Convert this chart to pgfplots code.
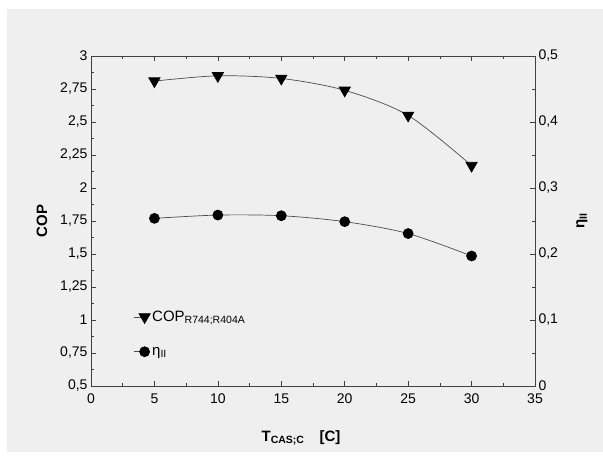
\documentclass[border=0pt]{standalone}
\usepackage{fontspec}
\setmainfont{Liberation Sans}
\usepackage{pgfplots}
\pgfplotsset{compat=1.18}
\definecolor{panel}{RGB}{239,239,239}
\newcommand{\labfont}{\bfseries\fontsize{15bp}{18bp}\selectfont}
\begin{document}
\begin{tikzpicture}
\useasboundingbox (0bp,0bp) rectangle (603bp,457bp);
\fill[white] (0bp,0bp) rectangle (603bp,457bp);
\fill[panel] (7bp,5bp) rectangle (603bp,448bp);
\pgfplotsset{
  every axis/.append style={
    scale only axis, width=444bp, height=330bp, at={(91bp,71bp)}, anchor=south west,
    xmin=0, xmax=35, xtick distance=5, minor x tick num=1,
    tick align=inside, major tick length=5bp, minor tick length=3bp,
    axis line style={black!75, line width=0.7bp},
    every tick/.style={black!75, line width=0.6bp},
    tick label style={font=\fontsize{14bp}{16bp}\selectfont},
    /pgf/number format/assume math mode=true,
    /pgf/number format/use comma,
    legend image code/.code={\draw[mark repeat=2,mark phase=2,#1] plot coordinates {(0bp,0bp) (11bp,0bp) (14bp,0bp)};},
  },
  copstyle/.style={black!70, line width=0.7bp, smooth, mark=triangle*, mark size=6.5bp,
    mark options={rotate=180, fill=black, draw=black, solid}},
  etastyle/.style={black!70, line width=0.7bp, smooth, mark=*, mark size=5bp,
    mark options={fill=black, draw=black, solid}},
}
\begin{axis}[
  ymin=0.5, ymax=3, ytick distance=0.25, minor y tick num=1, ytick pos=left,
  xtick pos=both, xticklabel pos=bottom,
  xticklabel style={yshift=-4bp},
  ylabel={COP},
  every axis y label/.style={at={(axis description cs:0,0.5)}, xshift=-49bp, rotate=90, anchor=center, font=\labfont},
  xlabel={T\textsubscript{CAS;C}\quad[C]},
  every axis x label/.style={at={(axis description cs:0.473,0)}, yshift=-52bp, anchor=center, font=\labfont},
  legend style={draw=none, fill=none, at={(0.088,0.24)}, anchor=north west,
    font=\fontsize{15bp}{18bp}\selectfont, row sep=20bp},
  legend cell align=left,
]
\addplot[copstyle] coordinates {(5,2.81) (10,2.85) (15,2.83) (20,2.74) (25,2.55) (30,2.17)};
\addlegendentry{COP\textsubscript{R744;R404A}}
\addlegendimage{etastyle}
\addlegendentry{η\textsubscript{II}}
\end{axis}
\begin{axis}[
  axis y line*=right, axis x line=none,
  ymin=0, ymax=0.5, ytick distance=0.1, minor y tick num=1,
  ylabel={η\textsubscript{II}},
  every axis y label/.style={at={(axis description cs:1,0.5)}, xshift=47bp, rotate=90, anchor=center, font=\labfont},
]
\addplot[etastyle] coordinates {(5,0.254) (10,0.259) (15,0.258) (20,0.249) (25,0.231) (30,0.197)};
\end{axis}
\end{tikzpicture}
\end{document}
